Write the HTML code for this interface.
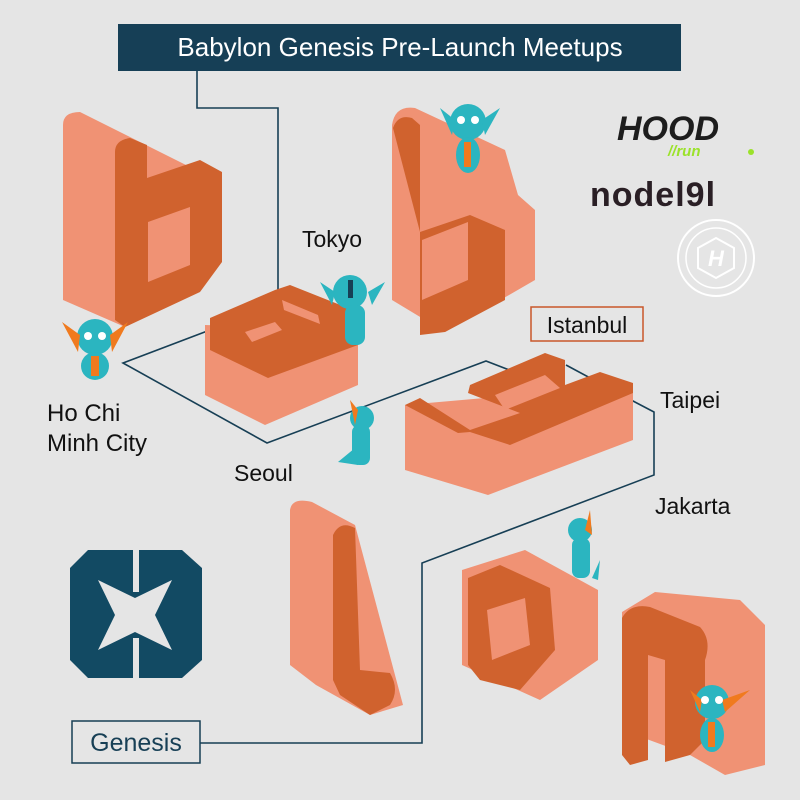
<!DOCTYPE html>
<html><head><meta charset="utf-8"><style>
html,body{margin:0;padding:0;background:#e5e5e5}
svg{display:block}
text{font-family:"Liberation Sans",sans-serif}
</style></head><body>
<svg width="800" height="800" viewBox="0 0 800 800">
<rect width="800" height="800" fill="#e5e5e5"/>
<!-- connectors -->
<g fill="none" stroke="#173f55" stroke-width="1.6">
<polyline points="197,65 197,108 278,108 278,290"/>
<polyline points="210,330 123,363 267,443 486,361 530,378"/>
<polyline points="566,365 633,401 654,412 654,475 422,563 422,743 200,743"/>
</g>
<!-- title -->
<rect x="118" y="24" width="563" height="47" fill="#163f56"/>
<text x="400" y="56" font-size="26" fill="#fff" text-anchor="middle">Babylon Genesis Pre-Launch Meetups</text>

<!-- b left -->
<path d="M63,125 Q63,112 80,112 L200,172 L222,190 L222,255 L200,290 L125,327 L63,300 Z" fill="#f09274"/>
<path d="M115,152 Q115,140 130,138 L147,145 L147,178 L200,160 L222,172 L222,262 L200,292 L125,327 L115,320 Z" fill="#d0622e"/>
<path d="M148,222 L190,207 L190,265 L148,282 Z" fill="#f09274"/>

<!-- a -->
<path d="M205,325 L205,395 L265,425 L358,385 L358,330 Z" fill="#f09274"/>
<path d="M210,318 L275,290 L290,285 L358,312 L358,345 L268,378 L210,350 Z" fill="#d0622e"/>
<path d="M245,332 L275,322 L282,330 L252,342 Z" fill="#f09274"/>
<path d="M282,300 L318,315 L320,324 L284,310Z" fill="#f09274"/>

<!-- b right -->
<path d="M392,125 Q395,105 415,108 L505,150 L518,195 L535,210 L535,280 L445,332 L392,300 Z" fill="#f09274"/>
<path d="M393,128 Q398,114 412,118 L420,125 L420,335 L445,332 L505,300 L505,230 L470,215 L420,232 Z" fill="#d0622e"/>
<path d="M422,240 L468,222 L468,280 L422,300 Z" fill="#f09274"/>

<!-- y -->
<path d="M405,405 L405,470 L488,495 L633,440 L633,385 Z" fill="#f09274"/>
<path d="M405,405 L420,398 L470,430 L520,413 L468,393 L470,385 L545,353 L565,360 L565,385 L600,372 L633,383 L633,393 L510,445 L470,432 L458,433 Z" fill="#d0622e"/>
<path d="M495,395 L545,375 L560,388 L505,410Z" fill="#f09274"/>

<!-- l -->
<path d="M290,510 Q292,497 312,502 L355,525 L403,705 L370,715 L316,685 L290,665 Z" fill="#f09274"/>
<path d="M333,535 Q340,520 355,528 L360,670 L390,673 Q400,690 390,705 L370,715 L340,695 L333,680 Z" fill="#d0622e"/>

<!-- o -->
<path d="M462,570 L525,550 L598,590 L598,660 L540,700 L462,665 Z" fill="#f09274"/>
<path d="M468,578 L500,565 L550,588 L555,650 L520,690 L480,680 L468,665 Z" fill="#d0622e"/>
<path d="M487,610 L525,598 L530,645 L492,660Z" fill="#f09274"/>

<!-- n -->
<path d="M622,612 L655,592 L740,600 L765,625 L765,765 L725,775 L690,755 L622,730 Z" fill="#f09274"/>
<path d="M622,618 Q630,603 650,607 L700,627 Q712,640 705,660 L705,740 L690,755 L665,762 L665,660 L648,655 L648,760 L630,765 L622,755Z" fill="#d0622e"/>

<!-- dragons -->
<g>
<circle cx="95" cy="337" r="18" fill="#2bb5c0"/><path d="M62,322 L80,335 L78,352Z M128,322 L110,335 L112,352Z" fill="#f07a1e"/>
<ellipse cx="95" cy="366" rx="14" ry="14" fill="#2bb5c0"/><rect x="91" y="356" width="8" height="20" fill="#f07a1e"/>
<circle cx="88" cy="336" r="4" fill="#fff"/><circle cx="102" cy="336" r="4" fill="#fff"/>
</g>
<g>
<circle cx="350" cy="292" r="17" fill="#2bb5c0"/><path d="M320,282 L335,292 L332,305Z M385,282 L368,292 L372,305Z" fill="#2bb5c0"/>
<rect x="345" y="305" width="20" height="40" rx="8" fill="#2bb5c0"/><rect x="348" y="280" width="5" height="18" fill="#173f55"/>
</g>
<g>
<circle cx="468" cy="122" r="18" fill="#2bb5c0"/><path d="M440,108 L455,120 L452,135Z M500,108 L482,120 L485,135Z" fill="#2bb5c0"/>
<ellipse cx="468" cy="155" rx="12" ry="18" fill="#2bb5c0"/><rect x="464" y="142" width="7" height="25" fill="#f07a1e"/>
<circle cx="461" cy="120" r="4" fill="#fff"/><circle cx="475" cy="120" r="4" fill="#fff"/>
</g>
<g>
<circle cx="362" cy="418" r="12" fill="#2bb5c0"/><rect x="352" y="425" width="18" height="40" rx="7" fill="#2bb5c0"/>
<path d="M338,462 L355,448 L358,465Z" fill="#2bb5c0"/><path d="M350,400 L358,410 L355,425Z" fill="#f07a1e"/>
</g>
<g>
<circle cx="580" cy="530" r="12" fill="#2bb5c0"/><rect x="572" y="538" width="18" height="40" rx="7" fill="#2bb5c0"/>
<path d="M600,560 L592,578 L598,580Z" fill="#2bb5c0"/><path d="M590,510 L585,530 L592,535Z" fill="#f07a1e"/>
</g>
<g>
<circle cx="712" cy="702" r="17" fill="#2bb5c0"/><path d="M690,690 L702,700 L700,712Z M750,690 L722,700 L725,712Z" fill="#f07a1e"/>
<ellipse cx="712" cy="735" rx="12" ry="17" fill="#2bb5c0"/><rect x="708" y="722" width="7" height="25" fill="#f07a1e"/>
<circle cx="705" cy="700" r="4" fill="#fff"/><circle cx="719" cy="700" r="4" fill="#fff"/>
</g>

<!-- labels -->
<text x="302" y="247" font-size="23" fill="#111">Tokyo</text>
<rect x="531" y="307" width="112" height="34" fill="none" stroke="#c9572a" stroke-width="1.5"/>
<text x="587" y="333" font-size="23" fill="#111" text-anchor="middle">Istanbul</text>
<text x="47" y="421" font-size="24" fill="#111">Ho Chi</text>
<text x="47" y="451" font-size="24" fill="#111">Minh City</text>
<text x="234" y="481" font-size="23" fill="#111">Seoul</text>
<text x="660" y="408" font-size="23" fill="#111">Taipei</text>
<text x="655" y="514" font-size="23" fill="#111">Jakarta</text>
<rect x="72" y="721" width="128" height="42" fill="none" stroke="#173f55" stroke-width="1.5"/>
<text x="136" y="751" font-size="25" fill="#173f55" text-anchor="middle">Genesis</text>

<!-- babylon logo -->
<path d="M88,550 L182,550 L202,568 L202,660 L182,678 L88,678 L70,660 L70,568 Z" fill="#124a63"/>
<path d="M98,580 L135,598 L172,580 L155,615 L172,650 L135,632 L98,650 L115,615 Z" fill="#e5e5e5"/>
<rect x="133" y="548" width="6" height="44" fill="#e5e5e5"/>
<rect x="133" y="638" width="6" height="44" fill="#e5e5e5"/>

<!-- logos -->
<text x="617" y="140" font-size="34" font-weight="bold" font-style="italic" fill="#1d1d1d">HOOD</text>
<text x="668" y="156" font-size="15" font-weight="bold" font-style="italic" fill="#9be22a">//run</text>
<circle cx="751" cy="152" r="3" fill="#9be22a"/>
<text x="590" y="206" font-size="34" font-weight="bold" fill="#2a1f25" letter-spacing="1">nodel9l</text>
<circle cx="716" cy="258" r="38" fill="none" stroke="#fff" stroke-width="2"/>
<circle cx="716" cy="258" r="30" fill="none" stroke="#fff" stroke-width="1.5"/>
<polygon points="716,238 734,248 734,268 716,278 698,268 698,248" fill="none" stroke="#fff" stroke-width="2"/>
<text x="716" y="266" font-size="22" font-style="italic" font-weight="bold" fill="#fff" text-anchor="middle">H</text>
</svg>
</body></html>
